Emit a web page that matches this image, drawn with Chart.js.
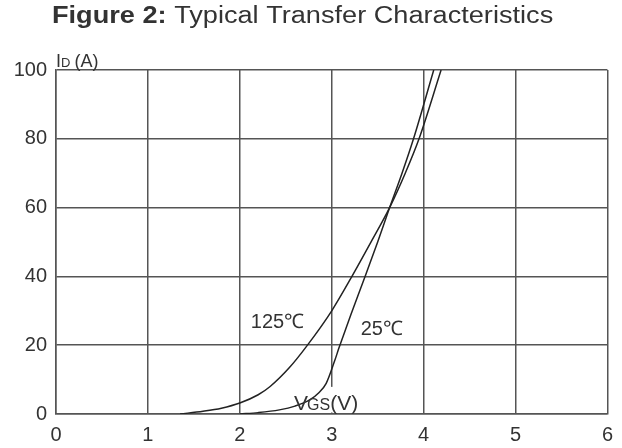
<!DOCTYPE html>
<html>
<head>
<meta charset="utf-8">
<script src="https://cdn.jsdelivr.net/npm/chart.js@4.4.1/dist/chart.umd.min.js"></script>
<style>
  body { margin: 0; background: #fff; }
  #wrap { width: 622px; height: 448px; }
</style>
</head>
<body>
<div id="wrap"><canvas id="transferCanvas"></canvas></div>
<script>
// Figure 2: Typical Transfer Characteristics
const vgs25 = [2.0, 2.2, 2.43, 2.6, 2.76, 2.86, 2.94, 3.03, 3.08, 3.14, 3.21, 3.37, 3.50, 3.63, 3.765, 3.89, 4.11];
const id25 = [0, 0.4, 1.2, 2.3, 4.1, 6.2, 8.9, 15.3, 19.3, 23.8, 29, 40.5, 50, 60, 70, 80, 100];

const vgs125 = [1.35, 1.6, 1.8, 2.0, 2.2, 2.33, 2.54, 2.73, 3.0, 3.22, 3.44, 3.63, 3.80, 3.95, 4.19];
const id125 = [0, 0.8, 1.7, 3.2, 5.6, 8.0, 13.5, 19.8, 30, 40, 50.6, 60, 70, 80, 100];

const xTicks = [0, 1, 2, 3, 4, 5, 6];
const yTicks = [0, 20, 40, 60, 80, 100];

const textColor = "#333";
const gridColor = "#555";
const sans = "'Liberation Sans', Arial, sans-serif";

function toPoints(xs, ys) {
    return xs.map((x, i) => ({ x: x, y: ys[i] }));
}

// title, axis names and curve labels
const labelsPlugin = {
    id: "labels",
    beforeDatasetsDraw(chart) {
        const ctx = chart.ctx;
        const x = chart.scales.x;
        const y = chart.scales.y;
        // white box behind VGS(V), hides the grid line under it
        ctx.save();
        ctx.fillStyle = "#fff";
        const lx = x.getPixelForValue(2.59);
        const top = y.getPixelForValue(1.2) - 23;
        ctx.fillRect(lx - 2, top, 72, y.getPixelForValue(0) - 1.5 - top);
        ctx.restore();
    },
    afterDatasetsDraw(chart) {
        const ctx = chart.ctx;
        const x = chart.scales.x;
        const y = chart.scales.y;
        ctx.save();
        ctx.fillStyle = textColor;
        ctx.textBaseline = "alphabetic";

        // title
        ctx.save();
        ctx.translate(52, 23);
        ctx.scale(1.18, 1);
        ctx.font = "bold 23px " + sans;
        ctx.fillText("Figure 2:", 0, 0);
        let w = ctx.measureText("Figure 2: ").width;
        ctx.font = "23px " + sans;
        ctx.fillText("Typical Transfer Characteristics", w, 0);
        ctx.restore();

        // ID (A)
        let px = x.getPixelForValue(0);
        let py = y.getPixelForValue(100) - 3;
        ctx.font = "18px " + sans;
        ctx.fillText("I", px, py);
        px += ctx.measureText("I").width;
        ctx.font = "13px " + sans;
        ctx.fillText("D", px, py);
        px += ctx.measureText("D").width + 4;
        ctx.font = "18px " + sans;
        ctx.fillText("(A)", px, py);

        // VGS(V)
        px = x.getPixelForValue(2.59);
        py = y.getPixelForValue(1.2);
        ctx.font = "21px " + sans;
        ctx.fillText("V", px, py);
        px += ctx.measureText("V").width - 1;
        ctx.font = "16px " + sans;
        ctx.fillText("GS", px, py);
        px += ctx.measureText("GS").width;
        ctx.font = "21px " + sans;
        ctx.fillText("(V)", px, py);

        // curve labels
        ctx.font = "20px " + sans;
        ctx.textAlign = "center";
        ctx.textBaseline = "middle";
        ctx.fillText("125℃", x.getPixelForValue(2.41), y.getPixelForValue(26.6));
        ctx.fillText("25℃", x.getPixelForValue(3.545), y.getPixelForValue(24.7));
        ctx.restore();
    },
};

const transferChart = new Chart(document.getElementById("transferCanvas"), {
    type: "line",
    data: {
        datasets: [
            {
                label: "25℃",
                data: toPoints(vgs25, id25),
            },
            {
                label: "125℃",
                data: toPoints(vgs125, id125),
            },
        ],
    },
    options: {
        responsive: true,
        maintainAspectRatio: false,
        animation: false,
        events: [],
        layout: { padding: { top: 70, right: 13, left: 0, bottom: 0 } },
        elements: {
            point: { radius: 0 },
            line: {
                borderColor: "#222",
                borderWidth: 1.5,
                cubicInterpolationMode: "monotone",
                fill: false,
            },
        },
        plugins: {
            legend: { display: false },
            tooltip: { enabled: false },
            title: { display: false },
        },
        scales: {
            x: {
                type: "linear",
                min: 0,
                max: 6,
                afterFit(scale) { scale.height = 34; },
                afterBuildTicks(scale) { scale.ticks = xTicks.map(v => ({ value: v })); },
                grid: { color: gridColor, lineWidth: 1.5, drawTicks: false },
                border: { color: gridColor, width: 1.5 },
                ticks: {
                    color: textColor,
                    padding: 9,
                    font: { family: sans, size: 20 },
                    maxRotation: 0,
                },
            },
            y: {
                type: "linear",
                min: 0,
                max: 100,
                afterFit(scale) { scale.width = 56; },
                afterBuildTicks(scale) { scale.ticks = yTicks.map(v => ({ value: v })); },
                grid: { color: gridColor, lineWidth: 1.5, drawTicks: false },
                border: { color: gridColor, width: 1.5 },
                ticks: {
                    color: textColor,
                    padding: 9,
                    font: { family: sans, size: 20 },
                },
            },
        },
    },
    plugins: [labelsPlugin],
});
</script>
</body>
</html>
